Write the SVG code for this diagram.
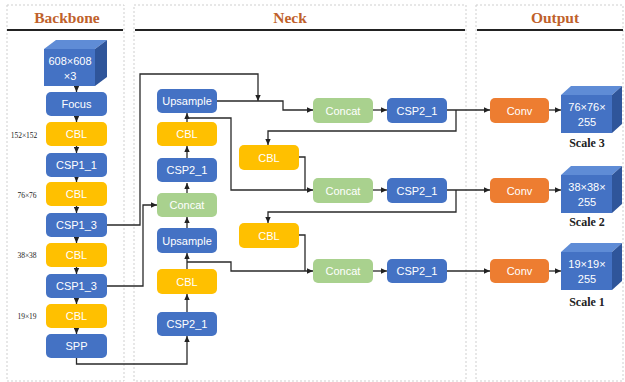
<svg xmlns="http://www.w3.org/2000/svg" width="625" height="382" viewBox="0 0 625 382">
<style>
.panel{fill:none;stroke:#cfcfcf;stroke-width:1;stroke-dasharray:2,2}
.rule{stroke:#222;stroke-width:2}
.title{font-family:"Liberation Serif",serif;font-weight:bold;font-size:15.5px;fill:#C0612B;text-anchor:middle}
.b{fill:#4472C4}
.y{fill:#FFC000}
.g{fill:#A9D18E}
.o{fill:#ED7D31}
.lbl{font-family:"Liberation Sans",Arial,sans-serif;font-size:11px;fill:#fff;text-anchor:middle;dominant-baseline:central}
.dim{font-family:"Liberation Serif",serif;font-size:7.5px;fill:#222;text-anchor:middle;dominant-baseline:central}
.scale{font-family:"Liberation Serif",serif;font-weight:bold;font-size:12px;fill:#222;text-anchor:middle}
.top{fill:#5F8CD6}
.side{fill:#2F559A}
.c{fill:none;stroke:#2a2a2a;stroke-width:1.3}
</style>
<defs>
<marker id="ah" viewBox="0 0 10 10" refX="10" refY="5" markerWidth="6" markerHeight="6" orient="auto" markerUnits="userSpaceOnUse"><path d="M0,0.5 L10,5 L0,9.5 z" fill="#222"/></marker>
</defs>

<!-- panels -->
<g id="panels">
<rect class="panel" x="7" y="5" width="117" height="376"/>
<rect class="panel" x="134" y="5" width="332" height="376"/>
<rect class="panel" x="476" y="5" width="147" height="376"/>
<line class="rule" x1="7" y1="30" x2="123" y2="30"/>
<line class="rule" x1="135" y1="30" x2="465" y2="30"/>
<line class="rule" x1="477" y1="30" x2="623" y2="30"/>
<text class="title" x="67" y="23">Backbone</text>
<text class="title" x="290" y="23">Neck</text>
<text class="title" x="555" y="23">Output</text>
</g>

<!-- connectors -->
<g id="connectors">
<path class="c" d="M76.5,86 V92" marker-end="url(#ah)"/>
<path class="c" d="M76.5,116 V122" marker-end="url(#ah)"/>
<path class="c" d="M76.5,146 V153" marker-end="url(#ah)"/>
<path class="c" d="M76.5,177 V182" marker-end="url(#ah)"/>
<path class="c" d="M76.5,206 V213" marker-end="url(#ah)"/>
<path class="c" d="M76.5,237 V243" marker-end="url(#ah)"/>
<path class="c" d="M76.5,267 V274" marker-end="url(#ah)"/>
<path class="c" d="M76.5,298 V304" marker-end="url(#ah)"/>
<path class="c" d="M76.5,328 V334" marker-end="url(#ah)"/>

<path class="c" d="M76.5,358 V364 H187 V336" marker-end="url(#ah)"/>
<path class="c" d="M107,286 H143 V205 H157" marker-end="url(#ah)"/>
<path class="c" d="M107,225 H140 V74 H258 V101" marker-end="url(#ah)"/>
<path class="c" d="M217,101 H283 V110 H313" marker-end="url(#ah)"/>

<path class="c" d="M187,312 V294" marker-end="url(#ah)"/>
<path class="c" d="M187,269 V253" marker-end="url(#ah)"/>
<path class="c" d="M187,228 V217" marker-end="url(#ah)"/>
<path class="c" d="M187,193 V183" marker-end="url(#ah)"/>
<path class="c" d="M187,158 V146" marker-end="url(#ah)"/>
<path class="c" d="M187,122 V113" marker-end="url(#ah)"/>

<path class="c" d="M187,118 H231 V190 H313" marker-end="url(#ah)"/>
<path class="c" d="M187,262 H231 V271 H313" marker-end="url(#ah)"/>
<path class="c" d="M299,157 H305 V190"/>
<path class="c" d="M299,235 H305 V271"/>

<path class="c" d="M373,110 H387" marker-end="url(#ah)"/>
<path class="c" d="M373,190 H387" marker-end="url(#ah)"/>
<path class="c" d="M373,271 H387" marker-end="url(#ah)"/>

<path class="c" d="M447,110 H490" marker-end="url(#ah)"/>
<path class="c" d="M447,190 H490" marker-end="url(#ah)"/>
<path class="c" d="M447,271 H490" marker-end="url(#ah)"/>
<path class="c" d="M456,110 V131 H268 V145" marker-end="url(#ah)"/>
<path class="c" d="M456,190 V212 H268 V223" marker-end="url(#ah)"/>

<path class="c" d="M549,110 H561" marker-end="url(#ah)"/>
<path class="c" d="M549,190 H561" marker-end="url(#ah)"/>
<path class="c" d="M549,271 H561" marker-end="url(#ah)"/>
</g>

<!-- backbone -->
<g id="input">
<path class="top" d="M44,49 L56,40 L107,40 L95,49 z"/>
<path class="side" d="M95,49 L107,40 L107,77 L95,86 z"/>
<rect class="b" x="44" y="49" width="51" height="37"/>
<text class="lbl" x="70" y="61">608×608</text>
<text class="lbl" x="70" y="76">×3</text>
</g>
<g id="focus"><rect class="b" x="46" y="92" width="61" height="24" rx="5"/><text class="lbl" x="76.5" y="104">Focus</text></g>
<g id="bb_cbl1"><rect class="y" x="46" y="122" width="61" height="24" rx="5"/><text class="lbl" x="76.5" y="134">CBL</text><text class="dim" x="24" y="135">152×152</text></g>
<g id="csp1_1"><rect class="b" x="46" y="153" width="61" height="24" rx="5"/><text class="lbl" x="76.5" y="165">CSP1_1</text></g>
<g id="bb_cbl2"><rect class="y" x="46" y="182" width="61" height="24" rx="5"/><text class="lbl" x="76.5" y="194">CBL</text><text class="dim" x="27" y="195">76×76</text></g>
<g id="csp1_3a"><rect class="b" x="46" y="213" width="61" height="24" rx="5"/><text class="lbl" x="76.5" y="225">CSP1_3</text></g>
<g id="bb_cbl3"><rect class="y" x="46" y="243" width="61" height="24" rx="5"/><text class="lbl" x="76.5" y="255">CBL</text><text class="dim" x="27" y="255">38×38</text></g>
<g id="csp1_3b"><rect class="b" x="46" y="274" width="61" height="24" rx="5"/><text class="lbl" x="76.5" y="286">CSP1_3</text></g>
<g id="bb_cbl4"><rect class="y" x="46" y="304" width="61" height="24" rx="5"/><text class="lbl" x="76.5" y="316">CBL</text><text class="dim" x="27" y="316">19×19</text></g>
<g id="spp"><rect class="b" x="46" y="334" width="61" height="24" rx="5"/><text class="lbl" x="76.5" y="346">SPP</text></g>

<!-- neck left column -->
<g id="n_up1"><rect class="b" x="157" y="89" width="60" height="24" rx="5"/><text class="lbl" x="187" y="101">Upsample</text></g>
<g id="n_cbl1"><rect class="y" x="157" y="122" width="60" height="24" rx="5"/><text class="lbl" x="187" y="134">CBL</text></g>
<g id="n_csp1"><rect class="b" x="157" y="158" width="60" height="24" rx="5"/><text class="lbl" x="187" y="170">CSP2_1</text></g>
<g id="n_cat1"><rect class="g" x="157" y="193" width="60" height="24" rx="5"/><text class="lbl" x="187" y="205">Concat</text></g>
<g id="n_up2"><rect class="b" x="157" y="228" width="60" height="25" rx="5"/><text class="lbl" x="187" y="240.5">Upsample</text></g>
<g id="n_cbl2"><rect class="y" x="157" y="269" width="60" height="25" rx="5"/><text class="lbl" x="187" y="281.5">CBL</text></g>
<g id="n_csp2"><rect class="b" x="157" y="312" width="60" height="24" rx="5"/><text class="lbl" x="187" y="324">CSP2_1</text></g>

<!-- neck right -->
<g id="n_cbl3"><rect class="y" x="239" y="145" width="60" height="25" rx="5"/><text class="lbl" x="269" y="157.5">CBL</text></g>
<g id="n_cbl4"><rect class="y" x="239" y="223" width="60" height="25" rx="5"/><text class="lbl" x="269" y="235.5">CBL</text></g>
<g id="cat_a"><rect class="g" x="313" y="98" width="60" height="25" rx="5"/><text class="lbl" x="343" y="110.5">Concat</text></g>
<g id="cat_b"><rect class="g" x="313" y="178" width="60" height="25" rx="5"/><text class="lbl" x="343" y="190.5">Concat</text></g>
<g id="cat_c"><rect class="g" x="313" y="259" width="60" height="24" rx="5"/><text class="lbl" x="343" y="271">Concat</text></g>
<g id="csp_a"><rect class="b" x="387" y="98" width="60" height="25" rx="5"/><text class="lbl" x="417" y="110.5">CSP2_1</text></g>
<g id="csp_b"><rect class="b" x="387" y="178" width="60" height="25" rx="5"/><text class="lbl" x="417" y="190.5">CSP2_1</text></g>
<g id="csp_c"><rect class="b" x="387" y="259" width="60" height="24" rx="5"/><text class="lbl" x="417" y="271">CSP2_1</text></g>

<!-- output -->
<g id="conv_a"><rect class="o" x="490" y="98" width="59" height="25" rx="5"/><text class="lbl" x="519.5" y="110.5">Conv</text></g>
<g id="conv_b"><rect class="o" x="490" y="178" width="59" height="25" rx="5"/><text class="lbl" x="519.5" y="190.5">Conv</text></g>
<g id="conv_c"><rect class="o" x="490" y="259" width="59" height="24" rx="5"/><text class="lbl" x="519.5" y="271">Conv</text></g>

<g id="out3">
<path class="top" d="M561,95 L571,86 L622,86 L612,95 z"/>
<path class="side" d="M612,95 L622,86 L622,124 L612,133 z"/>
<rect class="b" x="561" y="95" width="51" height="38"/>
<text class="lbl" x="587" y="107">76×76×</text>
<text class="lbl" x="587" y="122">255</text>
<text class="scale" x="587" y="147">Scale 3</text>
</g>
<g id="out2">
<path class="top" d="M561,175 L571,166 L622,166 L612,175 z"/>
<path class="side" d="M612,175 L622,166 L622,204 L612,213 z"/>
<rect class="b" x="561" y="175" width="51" height="38"/>
<text class="lbl" x="587" y="187">38×38×</text>
<text class="lbl" x="587" y="202">255</text>
<text class="scale" x="587" y="226">Scale 2</text>
</g>
<g id="out1">
<path class="top" d="M561,252 L571,243 L622,243 L612,252 z"/>
<path class="side" d="M612,252 L622,243 L622,281 L612,290 z"/>
<rect class="b" x="561" y="252" width="51" height="38"/>
<text class="lbl" x="587" y="264">19×19×</text>
<text class="lbl" x="587" y="279">255</text>
<text class="scale" x="587" y="306">Scale 1</text>
</g>
</svg>
